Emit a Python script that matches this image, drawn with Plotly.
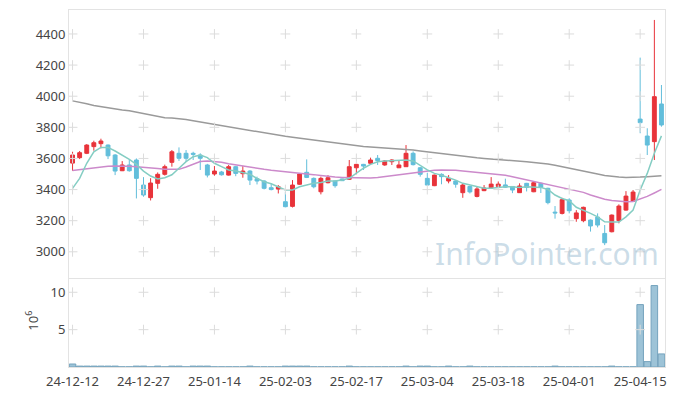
import plotly.graph_objects as go
from plotly.subplots import make_subplots

dates = ["24-12-12","24-12-13","24-12-16","24-12-17","24-12-18","24-12-19","24-12-20","24-12-23","24-12-24","24-12-26",
         "24-12-27","24-12-30","25-01-02","25-01-03","25-01-06","25-01-07","25-01-08","25-01-09","25-01-10","25-01-13",
         "25-01-14","25-01-15","25-01-16","25-01-17","25-01-20","25-01-21","25-01-22","25-01-23","25-01-24","25-01-31",
         "25-02-03","25-02-04","25-02-05","25-02-06","25-02-07","25-02-10","25-02-11","25-02-12","25-02-13","25-02-14",
         "25-02-17","25-02-18","25-02-19","25-02-20","25-02-21","25-02-24","25-02-25","25-02-26","25-02-27","25-02-28",
         "25-03-04","25-03-05","25-03-06","25-03-07","25-03-10","25-03-11","25-03-12","25-03-13","25-03-14","25-03-17",
         "25-03-18","25-03-19","25-03-20","25-03-21","25-03-24","25-03-25","25-03-26","25-03-27","25-03-28","25-03-31",
         "25-04-01","25-04-02","25-04-03","25-04-04","25-04-07","25-04-08","25-04-09","25-04-10","25-04-11","25-04-14",
         "25-04-15","25-04-16","25-04-17","25-04-18"]

open_ = [3570,3605,3633,3676,3695,3686,3622,3521,3558,3590,
         3429,3348,3440,3498,3575,3633,3633,3633,3622,3558,
         3500,3513,3493,3547,3502,3519,3470,3455,3412,3403,
         3322,3292,3434,3511,3472,3386,3444,3455,3468,3466,
         3540,3562,3569,3601,3558,3579,3540,3547,3633,3540,
         3472,3425,3498,3455,3455,3380,3420,3356,3393,3410,
         3420,3430,3420,3380,3440,3386,3440,3408,3255,3247,
         3333,3213,3200,3204,3223,3118,3129,3200,3268,3325,
         3853,3744,3708,3950]
high = [3643,3648,3692,3714,3727,3690,3628,3583,3594,3600,
        3480,3473,3510,3560,3654,3671,3654,3643,3633,3565,
        3551,3520,3558,3552,3551,3525,3483,3460,3440,3429,
        3386,3461,3505,3594,3478,3483,3493,3458,3470,3590,
        3565,3565,3605,3622,3590,3595,3590,3686,3645,3545,
        3508,3496,3504,3493,3460,3440,3425,3418,3429,3480,
        3452,3470,3422,3440,3443,3455,3445,3412,3294,3347,
        3344,3268,3290,3208,3247,3172,3240,3305,3390,3397,
        4248,3794,4490,4072]
low = [3521,3596,3628,3650,3665,3596,3493,3519,3515,3343,
       3354,3330,3405,3490,3547,3584,3579,3590,3526,3478,
       3489,3490,3490,3486,3476,3429,3433,3401,3395,3375,
       3286,3285,3430,3474,3408,3369,3440,3412,3455,3462,
       3498,3526,3565,3558,3553,3558,3538,3545,3555,3483,
       3427,3422,3434,3440,3412,3347,3375,3350,3390,3408,
       3415,3412,3377,3378,3388,3383,3378,3305,3213,3240,
       3247,3193,3190,3130,3157,3043,3125,3183,3264,3320,
       3762,3622,3590,3804]
close = [3622,3637,3686,3701,3712,3617,3519,3558,3521,3472,
         3365,3442,3498,3547,3643,3601,3601,3627,3601,3493,
         3519,3495,3547,3504,3519,3461,3455,3408,3400,3418,
         3290,3429,3500,3478,3418,3472,3476,3425,3457,3547,
         3562,3551,3590,3586,3584,3590,3558,3633,3560,3498,
         3429,3493,3483,3472,3434,3429,3385,3404,3410,3435,
         3435,3415,3397,3423,3414,3444,3414,3316,3250,3335,
         3264,3250,3286,3166,3172,3058,3236,3294,3358,3384,
         3830,3686,3997,3815]

ma_fast = [3408,3472,3569,3643,3671,3671,3648,3622,3594,3562,
           3519,3487,3468,3476,3495,3537,3579,3611,3622,3605,
           3569,3547,3526,3519,3508,3498,3472,3450,3437,3418,
           3397,3397,3418,3429,3440,3446,3455,3455,3461,3472,
           3504,3537,3562,3579,3584,3586,3586,3590,3584,3553,
           3526,3504,3493,3476,3461,3440,3428,3418,3408,3408,
           3414,3418,3418,3414,3418,3418,3414,3401,3365,3343,
           3328,3286,3268,3247,3225,3193,3191,3191,3225,3268,
           3397,3504,3633,3745]
ma_mid = [3522,3528,3534,3540,3546,3550,3552,3552,3550,3547,
          3544,3540,3535,3530,3528,3530,3545,3565,3580,3584,
          3582,3576,3566,3558,3552,3545,3538,3530,3524,3520,
          3515,3512,3508,3502,3496,3490,3483,3480,3478,3477,
          3476,3475,3474,3478,3484,3490,3494,3500,3507,3514,
          3520,3524,3526,3526,3524,3519,3515,3512,3508,3504,
          3500,3492,3482,3472,3460,3450,3440,3430,3420,3410,
          3400,3392,3382,3365,3350,3338,3330,3325,3322,3324,
          3340,3356,3378,3401]
ma_slow = [3970,3962,3952,3940,3932,3925,3918,3912,3906,3898,
           3890,3880,3870,3862,3860,3856,3850,3842,3834,3828,
           3820,3812,3806,3798,3790,3782,3774,3766,3756,3748,
           3742,3736,3730,3724,3716,3710,3704,3698,3692,3688,
           3682,3677,3674,3671,3669,3667,3664,3659,3654,3648,
           3642,3636,3630,3624,3618,3612,3608,3604,3600,3597,
           3594,3590,3586,3582,3578,3574,3570,3564,3556,3547,
           3540,3530,3520,3510,3500,3490,3484,3480,3478,3478,
           3480,3483,3486,3489]

volume_m = [0.40,0.12,0.12,0.12,0.12,0.12,0.12,0.02,0.02,0.12,
            0.12,0.02,0.12,0.02,0.12,0.12,0.02,0.12,0.12,0.12,
            0.02,0.02,0.02,0.02,0.02,0.12,0.02,0.02,0.02,0.02,
            0.12,0.12,0.12,0.12,0.02,0.02,0.02,0.02,0.02,0.12,
            0.02,0.02,0.02,0.02,0.02,0.02,0.02,0.12,0.02,0.12,
            0.12,0.02,0.02,0.12,0.02,0.02,0.12,0.02,0.02,0.02,
            0.02,0.02,0.02,0.02,0.02,0.02,0.02,0.02,0.12,0.02,
            0.02,0.02,0.02,0.02,0.02,0.02,0.12,0.02,0.02,0.02,
            8.35,0.72,10.9,1.75]

tick_idx = [0, 10, 20, 30, 40, 50, 60, 70, 80]
price_ticks = [3000, 3200, 3400, 3600, 3800, 4000, 4200, 4400]
vol_ticks = [5, 10]

UP = "#e8333a"
DOWN = "#62bedb"
FONT = "Noto Sans"

fig = make_subplots(rows=2, cols=1, shared_xaxes=True, vertical_spacing=0.0)

# grid crosses at tick intersections (drawn first, underneath)
tick_dates = [dates[i] for i in tick_idx]
cx, cy = [], []
for d in tick_dates:
    for p in price_ticks:
        cx.append(d); cy.append(p)
vx, vy = [], []
for d in tick_dates:
    for v in vol_ticks:
        vx.append(d); vy.append(v)

fig.add_trace(go.Scatter(x=dates, y=ma_slow, mode="lines", line=dict(color="#9a9a9a", width=1.5),
                         showlegend=False, hoverinfo="skip"), row=1, col=1)
fig.add_trace(go.Scatter(x=dates, y=ma_mid, mode="lines", line=dict(color="#cc8acb", width=1.5),
                         showlegend=False, hoverinfo="skip"), row=1, col=1)
fig.add_trace(go.Scatter(x=dates, y=ma_fast, mode="lines", line=dict(color="#84cdc3", width=1.5),
                         showlegend=False, hoverinfo="skip"), row=1, col=1)

fig.add_trace(go.Candlestick(x=dates, open=open_, high=high, low=low, close=close,
                             increasing=dict(line=dict(color=UP, width=1), fillcolor=UP),
                             decreasing=dict(line=dict(color=DOWN, width=1), fillcolor=DOWN),
                             showlegend=False), row=1, col=1)

fig.add_trace(go.Bar(x=dates, y=volume_m, marker=dict(color="rgba(140,184,208,0.85)",
                                                      line=dict(color="#74a3bd", width=1)),
                     showlegend=False), row=2, col=1)

fig.add_trace(go.Scatter(x=cx, y=cy, mode="markers", hoverinfo="skip", showlegend=False,
                         marker=dict(symbol="cross-thin", size=7, line=dict(color="#dcdcdc", width=1))),
              row=1, col=1)
fig.add_trace(go.Scatter(x=vx, y=vy, mode="markers", hoverinfo="skip", showlegend=False,
                         marker=dict(symbol="cross-thin", size=7, line=dict(color="#dcdcdc", width=1))),
              row=2, col=1)

fig.update_layout(
    width=673, height=396,
    margin=dict(l=69, r=8, t=10, b=29),
    paper_bgcolor="white", plot_bgcolor="white",
    bargap=0.08, boxgap=0.22,
    font=dict(family=FONT, size=13, color="#444"),
    annotations=[
        dict(text="InfoPointer.com", xref="paper", yref="paper", x=0.802, y=0.318,
             xanchor="center", yanchor="middle", showarrow=False,
             font=dict(family=FONT, size=30, color="rgba(160,192,212,0.55)")),
        dict(text="10<sup>6</sup>", xref="paper", yref="paper", x=-0.062, y=0.13,
             xanchor="center", yanchor="middle", showarrow=False, textangle=-90,
             font=dict(family=FONT, size=13, color="#444")),
    ],
)

fig.update_xaxes(type="category", categoryorder="array", categoryarray=dates,
                 range=[-0.5, 83.5], showgrid=False, zeroline=False,
                 showline=True, mirror=True, linecolor="#e3e3e3", linewidth=1,
                 tickmode="array", tickvals=tick_dates, ticktext=tick_dates, ticks="",
                 tickangle=0, automargin=False,
                 rangeslider=dict(visible=False))
fig.update_xaxes(showticklabels=False, row=1, col=1)
fig.update_xaxes(showticklabels=True, row=2, col=1, ticklabelstandoff=2,
                 tickfont=dict(size=13, color="#444"))

fig.update_yaxes(range=[2831, 4554], tickvals=price_ticks, showgrid=False, zeroline=False,
                 showline=True, mirror=True, linecolor="#e3e3e3", ticks="", automargin=False,
                 domain=[0.249, 1.0], row=1, col=1)
fig.update_yaxes(range=[0, 11.8], tickvals=vol_ticks, showgrid=False, zeroline=False,
                 showline=True, mirror=True, linecolor="#e3e3e3", ticks="", automargin=False,
                 domain=[0.0, 0.247], row=2, col=1)

fig.write_html("out.html", config={"displayModeBar": False},
               post_script="document.body.style.margin='0';document.body.style.overflow='hidden';")
